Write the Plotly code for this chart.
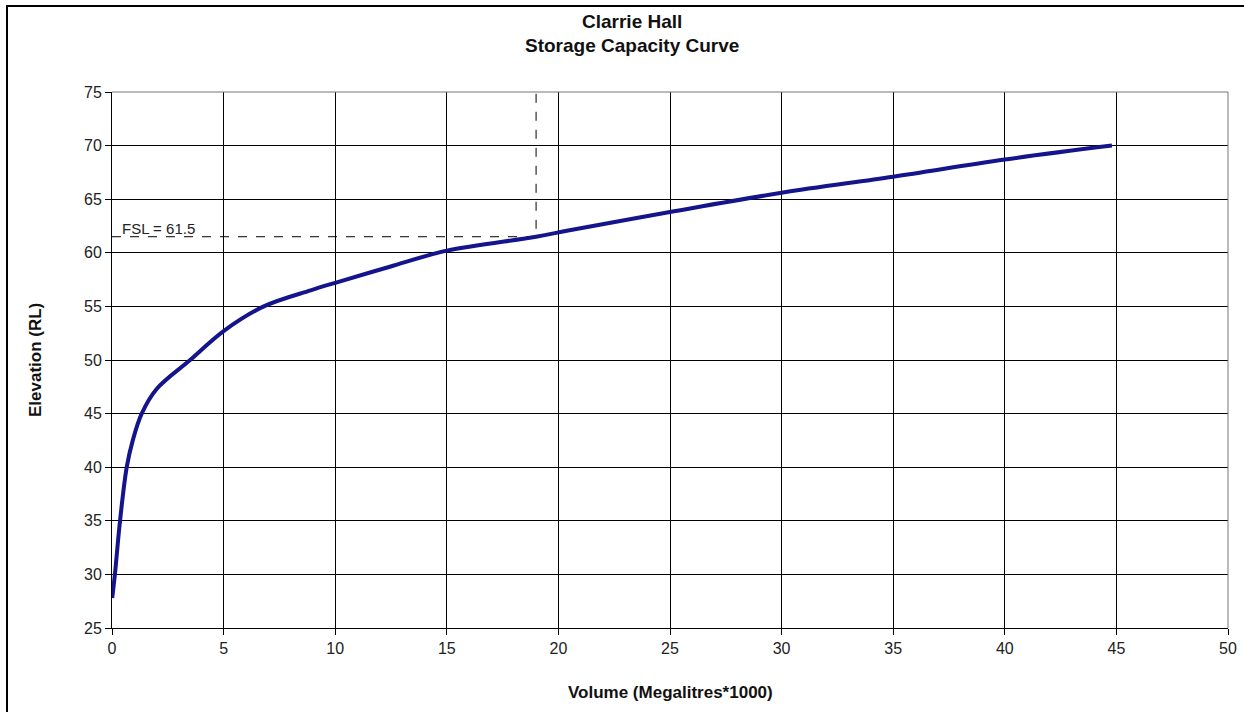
import plotly.graph_objects as go

# Storage capacity curve: volume (ML x 1000) against elevation (RL)
volume = [0.01, 0.13, 0.36, 0.66, 0.93, 1.33, 2.0, 3.5, 5.0, 6.8, 8.9, 10.0, 12.45, 15.0, 19.0, 20.5, 25.0, 30.0, 35.0, 40.0, 44.8]
elevation = [27.8, 30.0, 35.0, 40.0, 42.5, 45.0, 47.3, 50.0, 52.7, 55.0, 56.5, 57.2, 58.7, 60.2, 61.5, 62.1, 63.8, 65.6, 67.1, 68.7, 70.0]

fsl_level = 61.5
fsl_volume = 19.0

x_ticks = [0, 5, 10, 15, 20, 25, 30, 35, 40, 45, 50]
y_ticks = [25, 30, 35, 40, 45, 50, 55, 60, 65, 70, 75]

font_family = "Liberation Sans, Arial, sans-serif"

# plot area geometry (pixels)
L, R, T, B = 112, 16, 92, 84
W, H = 1244 - L - R, 712 - T - B


def px_x(p):
    return (p - L) / W


def px_y(p):
    return 1.0 - (p - T) / H


fig = go.Figure()

# Full supply level guide lines
fig.add_trace(go.Scatter(
    x=[0, fsl_volume, fsl_volume], y=[fsl_level, fsl_level, 75],
    mode="lines", line=dict(color="black", width=1, dash="dash"),
    hoverinfo="skip", showlegend=False,
))

fig.add_trace(go.Scatter(
    x=volume, y=elevation, mode="lines",
    line=dict(color="#14148c", width=4, shape="spline", smoothing=1.0),
    showlegend=False,
))

fig.add_annotation(
    x=0.35, y=fsl_level, xref="x", yref="y", text=f"FSL = {fsl_level}",
    showarrow=False, xanchor="left", yanchor="bottom", yshift=-2,
    font=dict(family=font_family, size=15, color="#222"),
)

# Title (two lines)
fig.add_annotation(
    x=px_x(632), y=px_y(22), xref="paper", yref="paper",
    text="<b>Clarrie Hall</b>", showarrow=False, xanchor="center", yanchor="middle",
    font=dict(family=font_family, size=19, color="#111"),
)
fig.add_annotation(
    x=px_x(632), y=px_y(45), xref="paper", yref="paper",
    text="<b>Storage Capacity Curve</b>", showarrow=False, xanchor="center", yanchor="middle",
    font=dict(family=font_family, size=19, color="#111"),
)

# Axis titles
fig.add_annotation(
    x=0.5, y=px_y(692), xref="paper", yref="paper",
    text="<b>Volume (Megalitres*1000)</b>", showarrow=False, xanchor="center", yanchor="middle",
    font=dict(family=font_family, size=17, color="#111"),
)
fig.add_annotation(
    x=px_x(35), y=0.5, xref="paper", yref="paper", textangle=-90,
    text="<b>Elevation (RL)</b>", showarrow=False, xanchor="center", yanchor="middle",
    font=dict(family=font_family, size=17, color="#111"),
)

# Outer chart frame
fig.add_shape(
    type="rect", xref="paper", yref="paper",
    x0=px_x(7), x1=1.2, y0=-0.4, y1=px_y(6),
    line=dict(color="black", width=2), fillcolor="rgba(0,0,0,0)", layer="below",
)

axis_common = dict(
    showgrid=True, gridcolor="black", gridwidth=1,
    ticks="outside", ticklen=6, tickcolor="black",
    tickfont=dict(family=font_family, size=16, color="#222"),
    showline=True, linecolor="black", linewidth=1, zeroline=False,
    automargin=False,
)

fig.update_xaxes(range=[0, 50], tickvals=x_ticks, **axis_common)
fig.update_yaxes(range=[25, 75], tickvals=y_ticks, **axis_common)

# Gray top and right borders of the plot area
fig.add_shape(type="line", xref="paper", yref="paper", x0=0, x1=1, y0=1, y1=1,
              line=dict(color="#777", width=1))
fig.add_shape(type="line", xref="paper", yref="paper", x0=1, x1=1, y0=0, y1=1,
              line=dict(color="#777", width=1))

fig.update_layout(
    width=1244, height=712,
    margin=dict(l=L, r=R, t=T, b=B),
    paper_bgcolor="white", plot_bgcolor="white",
)

fig.write_html("out.html")
